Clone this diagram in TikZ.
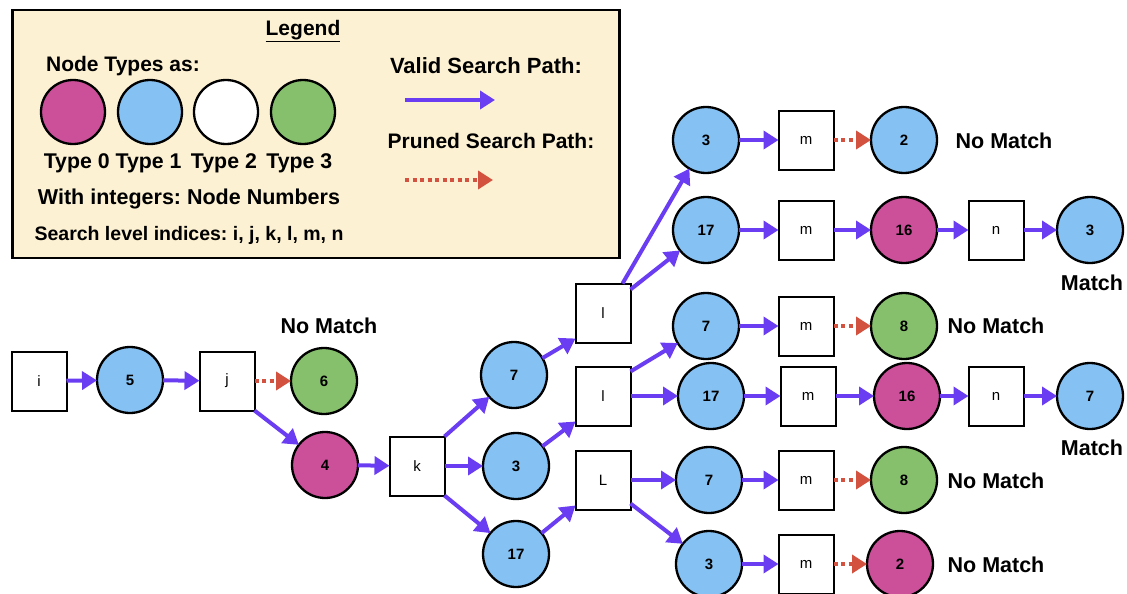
\documentclass[tikz,border=0pt]{standalone}
\usepackage{fontspec}
\setmainfont{Liberation Sans}
\usetikzlibrary{arrows.meta}
\frenchspacing
\definecolor{pinkc}{HTML}{CC4F9A}
\definecolor{bluec}{HTML}{85C1F2}
\definecolor{greenc}{HTML}{86C06C}
\definecolor{legc}{HTML}{FCF1D2}
\definecolor{purp}{HTML}{6A3DF2}
\definecolor{redc}{HTML}{D2513F}
\tikzset{
  cnode/.style={circle, draw=black, line width=2.3pt, minimum size=66pt, inner sep=0pt, outer sep=0pt, font=\bfseries\fontsize{15}{15}\selectfont},
  tzero/.style={cnode, fill=pinkc},
  tone/.style={cnode, fill=bluec},
  ttwo/.style={cnode, fill=white},
  tthree/.style={cnode, fill=greenc},
  lcirc/.style={cnode, minimum size=64pt},
  bnode/.style={rectangle, draw=black, line width=2pt, minimum width=55pt, minimum height=59pt, inner sep=0pt, outer sep=0pt, fill=white, font=\fontsize{15}{15}\selectfont},
  valid/.style={draw=purp, line width=4pt, -{Triangle[length=15pt,width=18pt]}},
  pruned/.style={draw=redc, line width=4pt, dash pattern=on 4pt off 3.5pt, -{Triangle[length=15pt,width=18pt]}},
  lbl/.style={font=\bfseries\fontsize{21.5}{22}\selectfont, inner sep=0pt},
  ltxt/.style={font=\bfseries\fontsize{21}{22}\selectfont, inner sep=0pt},
}
\begin{document}
\begin{tikzpicture}[x=1pt,y=-1pt]
\useasboundingbox (0,0) rectangle (1127,594);
% Legend
\node[draw=black, line width=2.5pt, fill=legc, minimum width=607pt, minimum height=248pt, inner sep=0pt] (legend) at (316,134) {};
\node[ltxt] (legt) at (303,31) {\underline{Legend}};
\node[ltxt] (ntypes) at (123,66) {Node Types as:};
\node[lcirc, fill=pinkc] (lc0) at (73,112) {};
\node[lcirc, fill=bluec] (lc1) at (150,112) {};
\node[lcirc, fill=white] (lc2) at (226,112) {};
\node[lcirc, fill=greenc] (lc3) at (303,112) {};
\node[ltxt, font=\bfseries\fontsize{21.3}{22}\selectfont] (types) at (188,163) {Type 0 Type 1\, Type 2\, Type 3};
\node[ltxt, font=\bfseries\fontsize{21.5}{22}\selectfont] (withint) at (189,199) {With integers: Node Numbers};
\node[ltxt, font=\bfseries\fontsize{19.5}{22}\selectfont] (slevel) at (189,235) {Search level indices: i, j, k, l, m, n};
\node[ltxt, font=\bfseries\fontsize{22}{22}\selectfont] (vsp) at (486,66) {Valid Search Path:};
\node[ltxt] (psp) at (491,141) {Pruned Search Path:};
\coordinate (va) at (405,100);
\coordinate (vb) at (495,100);
\coordinate (pa) at (405,180);
\coordinate (pb) at (493,180);
\draw[valid] (va) -- (vb);
\draw[pruned] (pa) -- (pb);
% Main tree
\node[bnode] (i) at (39,381) {i};
\node[tone] (n5) at (130,380) {5};
\node[bnode] (j) at (227,381) {j};
\node[tthree] (n6) at (324,381) {6};
\node[tzero] (n4) at (325,465) {4};
\node[bnode] (k) at (417,466) {k};
\node[tone] (k7) at (514,375) {7};
\node[tone] (k3) at (516,466) {3};
\node[tone] (k17) at (516,554) {17};
\node[bnode] (l1) at (603,313) {l};
\node[bnode] (l2) at (603,396) {l};
\node[bnode] (L) at (603,480) {L};
% row 1
\node[tone] (r1a) at (706,140) {3};
\node[bnode] (r1b) at (806,140) {m};
\node[tone] (r1c) at (904,140) {2};
% row 2
\node[tone] (r2a) at (706,230) {17};
\node[bnode] (r2b) at (806,230) {m};
\node[tzero] (r2c) at (904,230) {16};
\node[bnode] (r2d) at (996,230) {n};
\node[tone] (r2e) at (1090,230) {3};
% row 3
\node[tone] (r3a) at (706,326) {7};
\node[bnode] (r3b) at (806,326) {m};
\node[tthree] (r3c) at (904,326) {8};
% row 4
\node[tone] (r4a) at (711,396) {17};
\node[bnode] (r4b) at (808,396) {m};
\node[tzero] (r4c) at (907,396) {16};
\node[bnode] (r4d) at (996,396) {n};
\node[tone] (r4e) at (1090,396) {7};
% row 5
\node[tone] (r5a) at (709,480) {7};
\node[bnode] (r5b) at (806,480) {m};
\node[tthree] (r5c) at (904,480) {8};
% row 6
\node[tone] (r6a) at (709,564) {3};
\node[bnode] (r6b) at (806,564) {m};
\node[tzero] (r6c) at (900,564) {2};
% labels
\node[lbl] (nm0) at (329,326) {No Match};
\node[lbl] (nm1) at (1004,141) {No Match};
\node[lbl] (m2) at (1092,283) {Match};
\node[lbl] (nm3) at (996,326) {No Match};
\node[lbl] (m4) at (1092,448) {Match};
\node[lbl] (nm5) at (996,481) {No Match};
\node[lbl] (nm6) at (996,565) {No Match};
% edges
\draw[valid] (i) -- (n5);
\draw[valid] (n5) -- (j);
\draw[pruned] (j) -- (n6);
\draw[valid] (j.south east) -- (n4);
\draw[valid] (n4) -- (k);
\draw[valid] (k.north east) -- (k7);
\draw[valid] (k) -- (k3);
\draw[valid] (k.south east) -- (k17);
\draw[valid] (k7) -- ([yshift=4pt]l1.south west);
\draw[valid] (k3) -- ([yshift=4pt]l2.south west);
\draw[valid] (k17) -- ([yshift=4pt]L.south west);
\draw[valid] ([xshift=-8pt]l1.north east) -- (r1a);
\draw[valid] ([yshift=-6pt]l1.north east) -- (r2a);
\draw[valid] ([yshift=-5pt]l2.north east) -- (r3a);
\draw[valid] (l2) -- (r4a);
\draw[valid] (L) -- (r5a);
\draw[valid] ([yshift=6pt]L.south east) -- (r6a);
\draw[valid] (r1a) -- (r1b);
\draw[pruned] (r1b) -- (r1c);
\draw[valid] (r2a) -- (r2b);
\draw[valid] (r2b) -- (r2c);
\draw[valid] (r2c) -- (r2d);
\draw[valid] (r2d) -- (r2e);
\draw[valid] (r3a) -- (r3b);
\draw[pruned] (r3b) -- (r3c);
\draw[valid] (r4a) -- (r4b);
\draw[valid] (r4b) -- (r4c);
\draw[valid] (r4c) -- (r4d);
\draw[valid] (r4d) -- (r4e);
\draw[valid] (r5a) -- (r5b);
\draw[pruned] (r5b) -- (r5c);
\draw[valid] (r6a) -- (r6b);
\draw[pruned] (r6b) -- (r6c);
\end{tikzpicture}
\end{document}
